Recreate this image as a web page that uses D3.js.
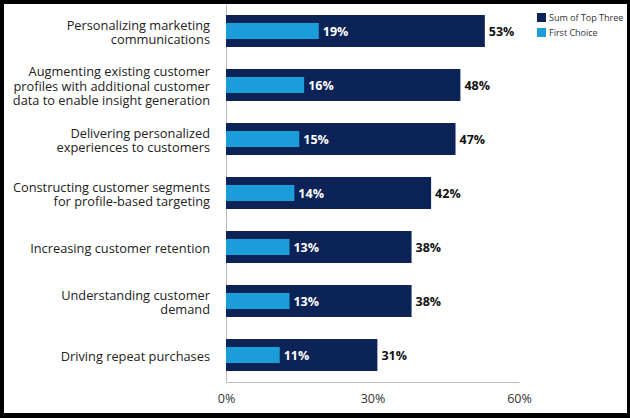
<!DOCTYPE html>
<html>
<head>
<meta charset="utf-8">
<script src="https://cdn.jsdelivr.net/npm/d3@7"></script>
<style>
  html, body { margin: 0; padding: 0; background: #000; }
  svg { display: block; }
</style>
</head>
<body>
<div class="container"></div>
<script>
const w = 630;
const h = 418;

const categories = [
  'Personalizing marketing\ncommunications',
  'Augmenting existing customer\nprofiles with additional customer\ndata to enable insight generation',
  'Delivering personalized\nexperiences to customers',
  'Constructing customer segments\nfor profile-based targeting',
  'Increasing customer retention',
  'Understanding customer\ndemand',
  'Driving repeat purchases',
];
const sumTopThree = [53, 48, 47, 42, 38, 38, 31];
const firstChoice = [19, 16, 15, 14, 13, 13, 11];
const xTicks = [0, 30, 60];
const seriesNames = ['Sum of Top Three', 'First Choice'];

const dark = '#0b2357';
const light = '#1b9dd9';
const font = "'Open Sans', sans-serif";

let svg = null;
let x = null;
let y = null;

window.onload = () => {
  setSvg();
  setScales();
  drawAxes();
  drawBars();
  addLabels();
  addLegend();
};

function setSvg() {
  svg = d3.select('.container').append('svg')
    .attr('width', w)
    .attr('height', h);

  // black frame round the white chart area
  svg.append('rect').attr('width', w).attr('height', h).attr('fill', '#000');
  svg.append('rect')
    .attr('x', 4).attr('y', 4)
    .attr('width', 623).attr('height', 409)
    .attr('fill', '#fff');
}

function setScales() {
  x = d3.scaleLinear().domain([0, 60]).range([226, 519]);
  y = d3.scaleBand()
    .domain(categories)
    .range([4, 382])
    .paddingInner(22 / 54)
    .paddingOuter(11 / 54);
}

function drawAxes() {
  const xAxis = svg.append('g')
    .attr('transform', `translate(0,${y.range()[1]})`)
    .call(d3.axisBottom(x).tickValues(xTicks).tickSize(0).tickPadding(12).tickFormat((d) => d + '%'));
  xAxis.select('.domain').attr('stroke', '#bdbdbd');
  xAxis.selectAll('text')
    .attr('font-family', font)
    .attr('font-size', '12.5px')
    .attr('fill', '#333');

  const yAxis = svg.append('g')
    .attr('transform', `translate(${x(0)},0)`)
    .call(d3.axisLeft(y).tickSize(0).tickFormat(''));
  yAxis.select('.domain').attr('stroke', '#bdbdbd');
}

function drawBars() {
  svg.selectAll('.bar-sum').data(categories).enter().append('rect')
    .attr('class', 'bar-sum')
    .attr('x', x(0))
    .attr('y', (d) => y(d))
    .attr('width', (d, i) => x(sumTopThree[i]) - x(0))
    .attr('height', y.bandwidth())
    .attr('fill', dark);

  const inner = y.bandwidth() / 2;
  svg.selectAll('.bar-first').data(categories).enter().append('rect')
    .attr('class', 'bar-first')
    .attr('x', x(0))
    .attr('y', (d) => y(d) + (y.bandwidth() - inner) / 2)
    .attr('width', (d, i) => x(firstChoice[i]) - x(0))
    .attr('height', inner)
    .attr('fill', light);
}

function addLabels() {
  const mid = (d) => y(d) + y.bandwidth() / 2;
  const lineH = 14.5;

  // category names, right aligned, several lines centred on the bar
  const cats = svg.selectAll('.cat').data(categories).enter().append('text')
    .attr('class', 'cat')
    .attr('text-anchor', 'end')
    .attr('font-family', font)
    .attr('font-size', '12.8px')
    .attr('fill', '#222');
  cats.each(function (d) {
    const lines = d.split('\n');
    const top = mid(d) - ((lines.length - 1) * lineH) / 2;
    d3.select(this).selectAll('tspan').data(lines).enter().append('tspan')
      .attr('x', 210)
      .attr('y', (l, i) => top + i * lineH)
      .attr('dy', '0.45em')
      .text((l) => l);
  });

  svg.selectAll('.val-sum').data(categories).enter().append('text')
    .attr('class', 'val-sum')
    .attr('x', (d, i) => x(sumTopThree[i]) + 4)
    .attr('y', mid)
    .attr('dy', '0.38em')
    .attr('font-family', font)
    .attr('font-weight', 'bold')
    .attr('font-size', '12.5px')
    .attr('fill', '#111')
    .text((d, i) => sumTopThree[i] + '%');

  svg.selectAll('.val-first').data(categories).enter().append('text')
    .attr('class', 'val-first')
    .attr('x', (d, i) => x(firstChoice[i]) + 4)
    .attr('y', mid)
    .attr('dy', '0.38em')
    .attr('font-family', font)
    .attr('font-weight', 'bold')
    .attr('font-size', '12.5px')
    .attr('fill', '#fff')
    .text((d, i) => firstChoice[i] + '%');
}

function addLegend() {
  const colors = [dark, light];
  const items = svg.selectAll('.legend').data(seriesNames).enter().append('g')
    .attr('class', 'legend')
    .attr('transform', (d, i) => `translate(537,${13 + i * 15})`);
  items.append('rect')
    .attr('width', 9).attr('height', 9)
    .attr('fill', (d, i) => colors[i]);
  items.append('text')
    .attr('x', 12).attr('y', 4.5).attr('dy', '0.35em')
    .attr('font-family', font)
    .attr('font-size', '9px')
    .attr('fill', '#333')
    .text((d) => d);
}
</script>
</body>
</html>
